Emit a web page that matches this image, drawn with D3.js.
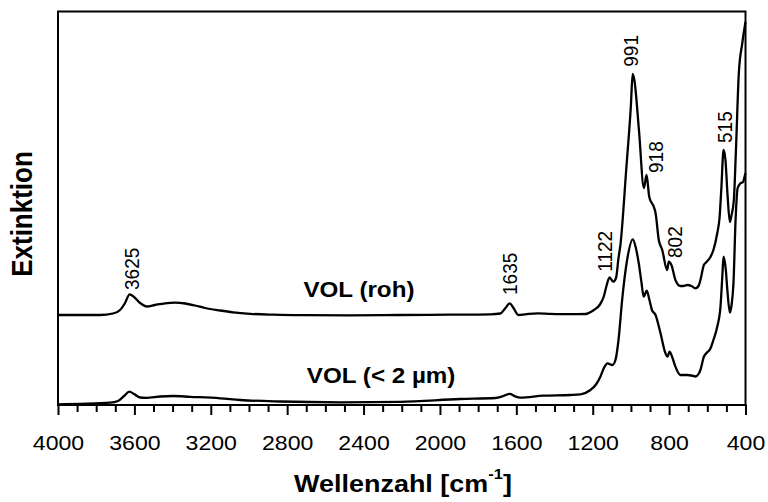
<!DOCTYPE html>
<html><head><meta charset="utf-8">
<script src="https://cdn.jsdelivr.net/npm/d3@7"></script>
<style>
html,body{margin:0;padding:0;background:#fff;}
svg{display:block;font-family:"Liberation Sans",Arial,sans-serif;}
</style></head>
<body>
<svg id="c" width="768" height="502"></svg>
<script>
// ---- data ----
const wnRoh = [4000,3780,3712,3675,3649,3625,3602,3570,3535,3492,3439,3387,3334,3282,3230,3151,3083,2994,2873,2732,2470,2208,1946,1736,1684,1657,1635,1615,1589,1553,1490,1422,1317,1238,1194,1164,1143,1128,1112,1093,1078,1065,1055,1024,1000,991,982,958,932,918,904,880,871,854,836,810,802,788,767,741,725,705,683,662,646,636,618,604,583,568,548,536,526,515,505,494,482,473,461,450,435,417,400];
const valRoh = [0.90,0.90,0.915,0.95,1.02,1.107,1.08,1.02,0.985,1.00,1.017,1.023,1.015,0.995,0.97,0.945,0.927,0.912,0.903,0.898,0.897,0.90,0.903,0.907,0.915,0.97,1.017,0.97,0.90,0.907,0.917,0.912,0.908,0.91,0.95,1.00,1.08,1.19,1.277,1.233,1.27,1.47,1.60,2.37,3.00,3.31,3.25,2.75,2.17,2.30,2.08,1.98,1.92,1.65,1.55,1.35,1.433,1.40,1.25,1.19,1.19,1.20,1.19,1.167,1.19,1.25,1.40,1.43,1.483,1.55,1.717,1.87,2.183,2.55,2.45,2.10,1.83,1.90,2.05,2.55,3.317,3.617,3.83];

const wnFine = [4000,3885,3727,3686,3654,3626,3602,3570,3539,3465,3397,3308,3151,3046,2837,2522,2208,1893,1710,1668,1634,1610,1579,1458,1317,1264,1212,1181,1160,1139,1123,1097,1081,1065,1046,1020,990,974,959,945,933,917,903,890,871,845,819,808,798,782,767,741,705,683,662,646,636,618,604,583,568,548,531,521,515,503,495,482,473,463,452,441,426,412,404,400];
const valFine = [0.007,0.012,0.023,0.04,0.09,0.133,0.11,0.075,0.072,0.085,0.09,0.082,0.067,0.05,0.035,0.027,0.032,0.06,0.07,0.09,0.112,0.09,0.073,0.093,0.10,0.107,0.15,0.21,0.283,0.38,0.417,0.40,0.45,0.65,1.05,1.45,1.657,1.57,1.417,1.23,1.083,1.143,1.05,0.95,0.90,0.717,0.517,0.483,0.533,0.47,0.383,0.30,0.30,0.295,0.285,0.31,0.35,0.483,0.52,0.567,0.65,0.783,0.983,1.30,1.483,1.35,1.15,0.925,1.00,1.217,1.85,2.17,2.217,2.233,2.29,2.317];

const peakLabels = ["3625","1635","1122","991","918","802","515"];
const peakLabelWn = [3575,1595,1097,962,832,730,473];
const peakLabelVal = [1.15,1.10,1.333,3.383,2.32,1.47,2.62];

const seriesNames = ["VOL (roh)","VOL (< 2 \u00b5m)"];
const seriesLabelWn = [2715,2697];
const seriesLabelVal = [1.083,0.217];

const majorTicks = [4000,3600,3200,2800,2400,2000,1600,1200,800,400];
const minorTicks = d3.range(4000,399,-100).filter(v=>v%400!==0);

const xTitle = "Wellenzahl [cm";
const xTitleSup = "-1";
const xTitleEnd = "]";
const yTitle = "Extinktion";

// ---- drawing ----
const svg = d3.select("#c");
const L=58, R=745.5, T=11.5, B=405;
const x = d3.scaleLinear().domain([4000,400]).range([L,R]);
const y = d3.scaleLinear().domain([0,3.93]).range([B,T+0.5]);
const SX = 1.1;

// frame
svg.append("rect").attr("x",L).attr("y",T).attr("width",R-L).attr("height",B-T)
  .attr("fill","none").attr("stroke","#000").attr("stroke-width",2);

// minor ticks
const minorAxis = d3.axisBottom(x).tickValues(minorTicks).tickSize(7).tickSizeOuter(0).tickFormat("");
const gMin = svg.append("g").attr("transform",`translate(0,${B})`).call(minorAxis);
gMin.select(".domain").remove();
gMin.selectAll("line").attr("stroke","#000").attr("stroke-width",2);

// major ticks
const majorAxis = d3.axisBottom(x).tickValues(majorTicks).tickSize(10).tickSizeOuter(0).tickPadding(20).tickFormat(d3.format("d"));
const gMaj = svg.append("g").attr("transform",`translate(0,${B})`).call(majorAxis);
gMaj.select(".domain").remove();
gMaj.selectAll("line").attr("stroke","#000").attr("stroke-width",2);
gMaj.selectAll("text").attr("font-size",21).attr("fill","#000")
  .attr("font-family","'Liberation Sans',Arial,sans-serif")
  .attr("transform",`scale(${SX},1)`);

// bottom axis line
svg.append("line").attr("x1",L-1).attr("x2",R+1).attr("y1",B).attr("y2",B)
  .attr("stroke","#000").attr("stroke-width",2);

// curves
const line = d3.line().x(d=>x(d[0])).y(d=>y(d[1])).curve(d3.curveMonotoneX);
const roh = wnRoh.map((w,i)=>[w,valRoh[i]]);
const fine = wnFine.map((w,i)=>[w,valFine[i]]);
[roh,fine].forEach(s=>{
  svg.append("path").datum(s).attr("d",line).attr("fill","none")
    .attr("stroke","#000").attr("stroke-width",2.3).attr("stroke-linejoin","round");
});

// peak labels
peakLabels.forEach((t,i)=>{
  svg.append("text")
    .attr("transform",`translate(${x(peakLabelWn[i])},${y(peakLabelVal[i])}) scale(${SX},1) rotate(-90)`)
    .attr("font-size",19).attr("fill","#000").text(t);
});

// series labels
seriesNames.forEach((t,i)=>{
  svg.append("text")
    .attr("transform",`translate(${x(seriesLabelWn[i])},${y(seriesLabelVal[i])}) scale(${SX},1)`)
    .attr("font-size",22).attr("font-weight","bold").attr("fill","#000").text(t);
});

// x title
const xt = svg.append("text")
  .attr("transform",`translate(403,491.5) scale(${SX},1)`)
  .attr("text-anchor","middle").attr("font-size",24.5).attr("font-weight","bold");
xt.append("tspan").text(xTitle);
xt.append("tspan").attr("font-size",15).attr("dy",-13).text(xTitleSup);
xt.append("tspan").attr("dy",13).text(xTitleEnd);

// y title
svg.append("text")
  .attr("transform",`translate(31.5,214) scale(${SX},1) rotate(-90)`)
  .attr("text-anchor","middle").attr("font-size",26).attr("font-weight","bold").text(yTitle);
</script>
</body></html>
